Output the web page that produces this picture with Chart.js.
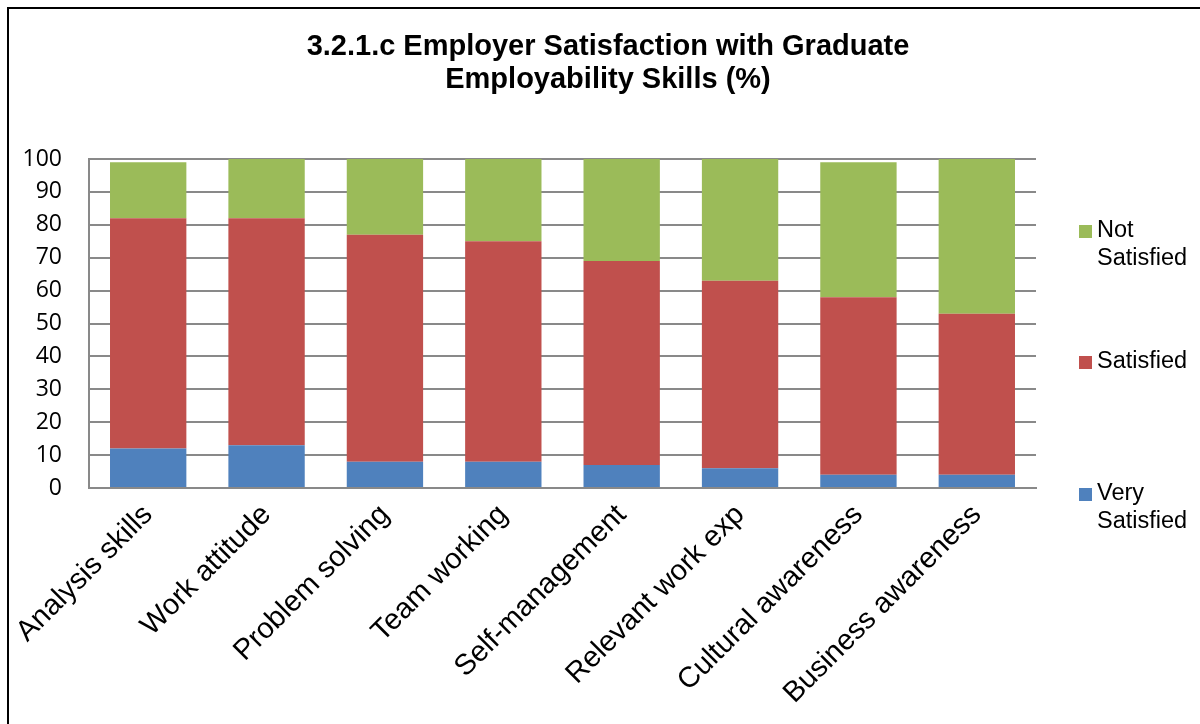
<!DOCTYPE html>
<html>
<head>
<meta charset="utf-8">
<script src="https://cdn.jsdelivr.net/npm/chart.js@4/dist/chart.umd.min.js"></script>
<style>
  html, body { margin: 0; padding: 0; background: #fff; }
  #wrap { position: relative; width: 1200px; height: 724px; }
</style>
</head>
<body>
<div id="wrap"><canvas id="myChart" width="1200" height="724"></canvas></div>
<script>
// chart data (%)
const categories = ['Analysis skills', 'Work attitude', 'Problem solving', 'Team working',
    'Self-management', 'Relevant work exp', 'Cultural awareness', 'Business awareness'];
const verySatisfied = [12, 13, 8, 8, 7, 6, 4, 4];
const satisfied = [70, 69, 69, 67, 62, 57, 54, 49];
const notSatisfied = [17, 18, 23, 25, 31, 37, 41, 47];
const yTicks = [0, 10, 20, 30, 40, 50, 60, 70, 80, 90, 100];
const titleLines = ['3.2.1.c Employer Satisfaction with Graduate', 'Employability Skills (%)'];

const gridGrey = '#898989';

// frame, title and the wrapped legend on the right
const decorPlugin = {
    id: 'decor',
    beforeDraw(chart) {
        const ctx = chart.ctx;
        ctx.save();
        ctx.fillStyle = '#fff';
        ctx.fillRect(0, 0, chart.width, chart.height);
        ctx.strokeStyle = '#000';
        ctx.lineWidth = 2;
        ctx.beginPath();
        ctx.moveTo(8, chart.height);
        ctx.lineTo(8, 8);
        ctx.lineTo(chart.width, 8);
        ctx.stroke();
        ctx.restore();
    },
    afterDraw(chart) {
        const ctx = chart.ctx;
        ctx.save();
        ctx.fillStyle = '#000';
        ctx.textAlign = 'center';
        ctx.textBaseline = 'middle';
        ctx.font = 'bold 29px "Liberation Sans", Arial, sans-serif';
        titleLines.forEach((t, i) => ctx.fillText(t, 608, 47 + i * 33));

        // legend, top to bottom in reverse dataset order
        const items = chart.data.datasets.slice().reverse();
        const rowY = [231, 362, 494];
        ctx.textAlign = 'left';
        ctx.font = '23.5px "Liberation Sans", Arial, sans-serif';
        items.forEach((ds, i) => {
            const words = ds.label.split(' ');
            const y = rowY[i];
            ctx.fillStyle = ds.backgroundColor;
            ctx.fillRect(1079, y - 6, 13, 13);
            ctx.fillStyle = '#000';
            words.forEach((w, j) => ctx.fillText(w, 1097, y + j * 28));
        });
        ctx.restore();
    }
};

const ctx = document.getElementById('myChart').getContext('2d');
new Chart(ctx, {
    type: 'bar',
    data: {
        labels: categories,
        datasets: [
            { label: 'Very Satisfied', data: verySatisfied, backgroundColor: '#4F81BD' },
            { label: 'Satisfied', data: satisfied, backgroundColor: '#C0504D' },
            { label: 'Not Satisfied', data: notSatisfied, backgroundColor: '#9BBB59' }
        ]
    },
    options: {
        responsive: false,
        animation: false,
        layout: { padding: { left: 9, right: 164, top: 159, bottom: 0 } },
        datasets: { bar: { barPercentage: 0.645, categoryPercentage: 1 } },
        plugins: {
            legend: { display: false },
            title: { display: false },
            tooltip: { enabled: false }
        },
        scales: {
            x: {
                stacked: true,
                grid: { display: false },
                border: { display: true, color: gridGrey, width: 2 },
                ticks: {
                    color: '#000',
                    minRotation: 45,
                    maxRotation: 45,
                    padding: 2,
                    font: { family: '"Liberation Sans", Arial, sans-serif', size: 29 }
                },
                afterFit(scale) { scale.height = 236; }
            },
            y: {
                stacked: true,
                min: 0,
                max: 100,
                afterBuildTicks(scale) { scale.ticks = yTicks.map(v => ({ value: v })); },
                grid: { color: gridGrey, lineWidth: 2, drawTicks: false },
                border: { display: true, color: gridGrey, width: 2 },
                ticks: {
                    color: '#000',
                    padding: 27,
                    font: { family: '"Open Sans", sans-serif', size: 23 }
                },
                afterFit(scale) { scale.width = 80; }
            }
        }
    },
    plugins: [decorPlugin]
});
</script>
</body>
</html>
